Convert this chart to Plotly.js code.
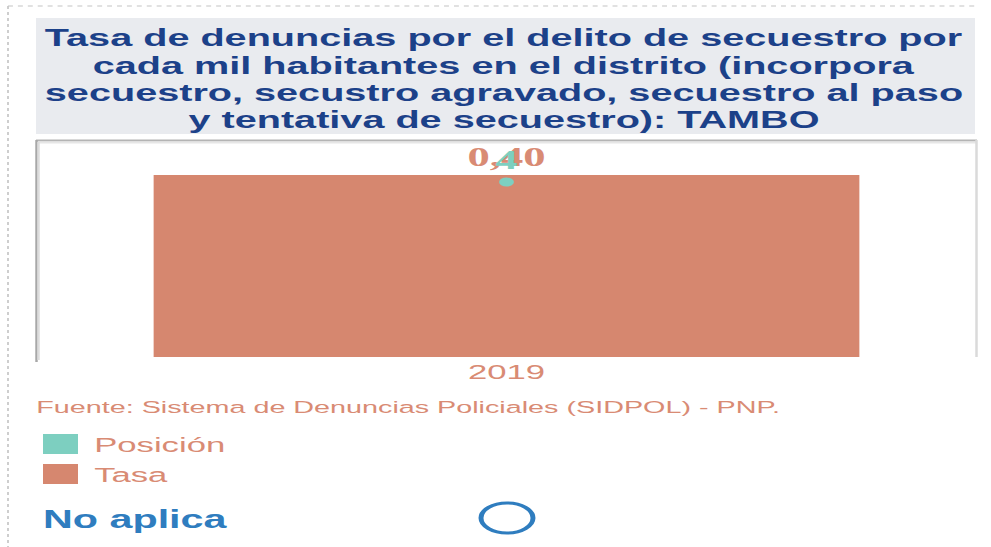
<!DOCTYPE html>
<html>
<head>
<meta charset="utf-8">
<script src="https://cdn.plot.ly/plotly-3.0.1.min.js"></script>
<style>
  html, body { margin: 0; padding: 0; background: #ffffff; overflow: hidden; }
  #chart { width: 600px; height: 547px; transform: scaleX(1.651667); transform-origin: 0 0; }
</style>
</head>
<body>
<div id="chart"></div>
<script>
// ---- data ----
const years = ['2019'];
const tasa = [0.40];
const posicion = [4];
const legendLabels = ['Posición', 'Tasa'];
const titleLines = [
  'Tasa de denuncias por el delito de secuestro por',
  'cada mil habitantes en el distrito (incorpora',
  'secuestro, secustro agravado, secuestro al paso',
  'y tentativa de secuestro): TAMBO'
];
const sourceText = 'Fuente: Sistema de Denuncias Policiales (SIDPOL) - PNP.';
const statusText = 'No aplica';

// ---- styling ----
const W = 600, H = 547, SX = 991 / 600;
const px = x => (x / SX) / W;      // reference x pixel -> paper
const py = y => 1 - y / H;         // reference y pixel -> paper
const salmon = '#d6876f';
const salmonText = '#d98b74';
const teal = '#7dcfc0';
const navy = '#1c4189';
const blue = '#2f7dbf';

const traces = [
  {
    type: 'bar', x: years, y: tasa, name: legendLabels[1],
    marker: { color: salmon }, width: 0.75,
    texttemplate: '%{y:.2f}', textposition: 'outside', cliponaxis: false,
    textfont: { family: 'Liberation Serif', size: 27, color: salmonText, weight: 'bold' },
    hoverinfo: 'skip', showlegend: false
  },
  {
    type: 'scatter', mode: 'markers+text', x: years, y: posicion, yaxis: 'y2', name: legendLabels[0],
    text: posicion.map(String), textposition: 'top center', cliponaxis: false,
    textfont: { family: 'Liberation Serif', size: 27, color: teal, weight: 'bold' },
    marker: { color: teal, size: 9 },
    hoverinfo: 'skip', showlegend: false
  }
];

const annotations = titleLines.map((t, i) => ({
  text: '<b>' + t + '</b>', xref: 'paper', yref: 'paper',
  x: px(503), y: py(38 + i * 27.3), xanchor: 'center', yanchor: 'middle', showarrow: false,
  font: { family: 'Liberation Sans', size: 24, color: navy }
}));
annotations.push({
  text: sourceText, xref: 'paper', yref: 'paper', x: px(33), y: py(407),
  xanchor: 'left', yanchor: 'middle', showarrow: false,
  font: { family: 'Liberation Sans', size: 17.4, color: salmonText }
});
const legendColors = [teal, salmon];
const legendY = [444, 474];
legendLabels.forEach((l, i) => {
  annotations.push({
    text: l, xref: 'paper', yref: 'paper', x: px(91), y: py(legendY[i]),
    xanchor: 'left', yanchor: 'middle', showarrow: false,
    font: { family: 'Liberation Sans', size: 21, color: salmonText }
  });
});
annotations.push({
  text: '<b>' + statusText + '</b>', xref: 'paper', yref: 'paper', x: px(40), y: py(519),
  xanchor: 'left', yanchor: 'middle', showarrow: false,
  font: { family: 'Liberation Sans', size: 25, color: blue }
});

const shapes = [
  // outer dotted frame
  { type: 'line', xref: 'paper', yref: 'paper', x0: px(8), x1: px(976), y0: py(6), y1: py(6), line: { color: '#c4c4c4', width: 1, dash: 'dot' } },
  { type: 'line', xref: 'paper', yref: 'paper', x0: px(8), x1: px(8), y0: py(6), y1: py(547), line: { color: '#c4c4c4', width: 1, dash: 'dot' } },
  // title background
  { type: 'rect', xref: 'paper', yref: 'paper', x0: px(36), x1: px(975), y0: py(18), y1: py(134), fillcolor: '#e9ebef', line: { width: 0 }, layer: 'below' },
  // plot frame
  { type: 'line', xref: 'paper', yref: 'paper', x0: px(36), x1: px(977), y0: py(140.5), y1: py(140.5), line: { color: '#b4b4b4', width: 2 } },
  { type: 'line', xref: 'paper', yref: 'paper', x0: px(37), x1: px(977), y0: py(142.5), y1: py(142.5), line: { color: '#e6e6e6', width: 2 } },
  { type: 'line', xref: 'paper', yref: 'paper', x0: px(36.5), x1: px(36.5), y0: py(140), y1: py(362), line: { color: '#a8a8a8', width: 1.5 } },
  { type: 'line', xref: 'paper', yref: 'paper', x0: px(38.5), x1: px(38.5), y0: py(142), y1: py(360), line: { color: '#dcdcdc', width: 1.5 } },
  { type: 'line', xref: 'paper', yref: 'paper', x0: px(976.5), x1: px(976.5), y0: py(140), y1: py(357), line: { color: '#dadada', width: 1.5 } },
  // legend squares
  { type: 'rect', xref: 'paper', yref: 'paper', x0: px(43), x1: px(78), y0: py(434), y1: py(454), fillcolor: legendColors[0], line: { width: 0 } },
  { type: 'rect', xref: 'paper', yref: 'paper', x0: px(43), x1: px(78), y0: py(464), y1: py(484), fillcolor: legendColors[1], line: { width: 0 } },
  // status circle
  { type: 'circle', xref: 'paper', yref: 'paper', x0: px(481), x1: px(533), y0: py(503), y1: py(533), line: { color: blue, width: 3 } }
];

const layout = {
  width: W, height: H,
  margin: { l: 0, r: 0, t: 0, b: 0 },
  paper_bgcolor: '#ffffff', plot_bgcolor: 'rgba(0,0,0,0)',
  separators: ',.',
  showlegend: false,
  xaxis: {
    type: 'category', domain: [px(36), px(977)],
    showgrid: false, zeroline: false, showline: false, ticks: '',
    tickfont: { family: 'Liberation Sans', size: 21, color: salmonText }
  },
  yaxis: {
    domain: [py(357), py(140)], range: [0, 0.477],
    showgrid: false, zeroline: false, showticklabels: false, showline: false
  },
  yaxis2: {
    overlaying: 'y', range: [0, 4.96],
    showgrid: false, zeroline: false, showticklabels: false, showline: false
  },
  annotations: annotations,
  shapes: shapes
};

Plotly.newPlot('chart', traces, layout, { staticPlot: true, displayModeBar: false });
</script>
</body>
</html>
